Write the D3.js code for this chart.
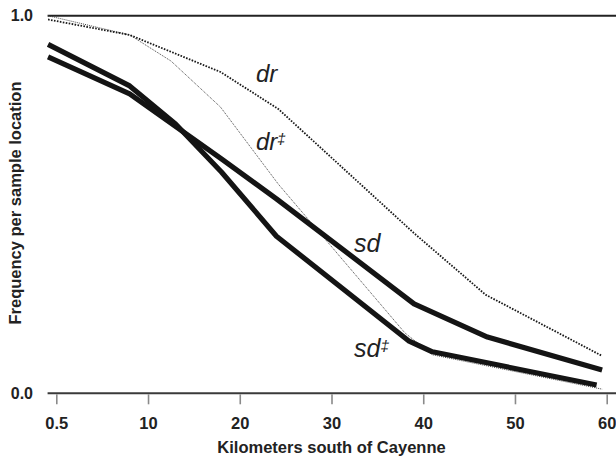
<!DOCTYPE html>
<html>
<head>
<meta charset="utf-8">
<script src="https://cdn.jsdelivr.net/npm/d3@7"></script>
<style>
  html, body { margin: 0; padding: 0; background: #fff; }
  svg { display: block; font-family: "Liberation Sans", Arial, sans-serif; }
</style>
</head>
<body>
<svg id="chart" width="616" height="458"></svg>
<script>
// ---- Data ----
const tickValues = [0, 10, 20, 30, 40, 50, 60];
const tickLabels = ["0.5", "10", "20", "30", "40", "50", "60"];
const yTickValues = [0, 1];
const yTickLabels = ["0.0", "1.0"];

const sdKm   = [-0.9, 8, 18, 24, 39, 47, 59.5];
const sdVal  = [0.891, 0.793, 0.621, 0.515, 0.237, 0.149, 0.062];

const sdDdKm  = [-0.9, 8, 13, 18, 24, 38.4, 41, 58.9];
const sdDdVal = [0.924, 0.814, 0.713, 0.586, 0.416, 0.139, 0.110, 0.022];

const drKm  = [-0.9, 8, 17.9, 24.2, 39, 46.8, 59.5];
const drVal = [0.990, 0.949, 0.851, 0.753, 0.424, 0.261, 0.099];

const drDdKm  = [-0.9, 8, 12.5, 17.9, 24.2, 38.0, 41, 59.5];
const drDdVal = [1.0, 0.949, 0.880, 0.758, 0.554, 0.160, 0.102, 0.011];

const seriesNames = ["sd", "sd‡", "dr", "dr‡"];

// ---- Layout ----
const svg = d3.select("#chart");
const W = 616, H = 458;
const x = d3.scaleLinear().domain([0, 60]).range([56.3, 606.7]);
const y = d3.scaleLinear().domain([0, 1]).range([393.3, 15.7]);

// baseline and 1.0 reference line
svg.append("line")
  .attr("x1", x(-0.95)).attr("x2", W)
  .attr("y1", y(0)).attr("y2", y(0))
  .attr("stroke", "#3a3a3a").attr("stroke-width", 2);
svg.append("line")
  .attr("x1", x(-0.95)).attr("x2", W)
  .attr("y1", y(1)).attr("y2", y(1))
  .attr("stroke", "#222").attr("stroke-width", 2);

// x axis
const xAxis = d3.axisBottom(x)
  .tickValues(tickValues)
  .tickFormat((d, i) => tickLabels[i])
  .tickSize(10)
  .tickPadding(13);
const gx = svg.append("g").attr("transform", `translate(0,${y(0) + 1})`).call(xAxis);
gx.select(".domain").remove();
gx.selectAll(".tick line").attr("stroke", "#8a8a8a").attr("stroke-width", 1.6);
gx.selectAll(".tick text")
  .attr("fill", "#222")
  .style("font-size", "16.5px")
  .style("font-weight", "bold")
  .style("font-family", "'Liberation Sans', Arial, sans-serif");

// y labels
svg.selectAll(".ylab").data(yTickValues).enter().append("text")
  .attr("class", "ylab")
  .attr("x", 33)
  .attr("y", d => y(d))
  .attr("dy", "0.36em")
  .attr("text-anchor", "end")
  .attr("fill", "#222")
  .style("font-size", "16px")
  .style("font-weight", "bold")
  .text((d, i) => yTickLabels[i]);

// axis titles
svg.append("text")
  .attr("x", x(30)).attr("y", 453)
  .attr("text-anchor", "middle")
  .attr("fill", "#222")
  .style("font-size", "16.5px").style("font-weight", "bold")
  .text("Kilometers south of Cayenne");
svg.append("text")
  .attr("transform", "translate(21,203) rotate(-90)")
  .attr("text-anchor", "middle")
  .attr("fill", "#222")
  .style("font-size", "16.5px").style("font-weight", "bold")
  .text("Frequency per sample location");

// lines
const line = d3.line().x(d => x(d[0])).y(d => y(d[1]));
const zip = (a, b) => a.map((v, i) => [v, b[i]]);

svg.append("path").datum(zip(drDdKm, drDdVal))
  .attr("d", line).attr("fill", "none")
  .attr("stroke", "#333").attr("stroke-width", 0.9)
  .attr("stroke-dasharray", "1,1");
svg.append("path").datum(zip(drKm, drVal))
  .attr("d", line).attr("fill", "none")
  .attr("stroke", "#1a1a1a").attr("stroke-width", 1.8)
  .attr("stroke-dasharray", "1.6,1.4");
svg.append("path").datum(zip(sdKm, sdVal))
  .attr("d", line).attr("fill", "none")
  .attr("stroke", "#141414").attr("stroke-width", 5.2)
  .attr("stroke-linejoin", "round");
svg.append("path").datum(zip(sdDdKm, sdDdVal))
  .attr("d", line).attr("fill", "none")
  .attr("stroke", "#141414").attr("stroke-width", 5.2)
  .attr("stroke-linejoin", "round");

// series labels
const labels = [
  {name: seriesNames[2], x: 256, y: 82, size: 24},
  {name: seriesNames[3], x: 256, y: 150, size: 24},
  {name: seriesNames[0], x: 354, y: 252, size: 25},
  {name: seriesNames[1], x: 354, y: 357, size: 25}
];
labels.forEach(l => {
  const t = svg.append("text")
    .attr("x", l.x).attr("y", l.y)
    .attr("fill", "#222")
    .style("font-size", l.size + "px")
    .style("font-style", "italic");
  const base = l.name.replace("‡", "");
  t.append("tspan").text(base);
  if (l.name.includes("‡")) {
    t.append("tspan").attr("dy", -6).style("font-size", (l.size * 0.62) + "px").text("‡");
  }
});
</script>
</body>
</html>
